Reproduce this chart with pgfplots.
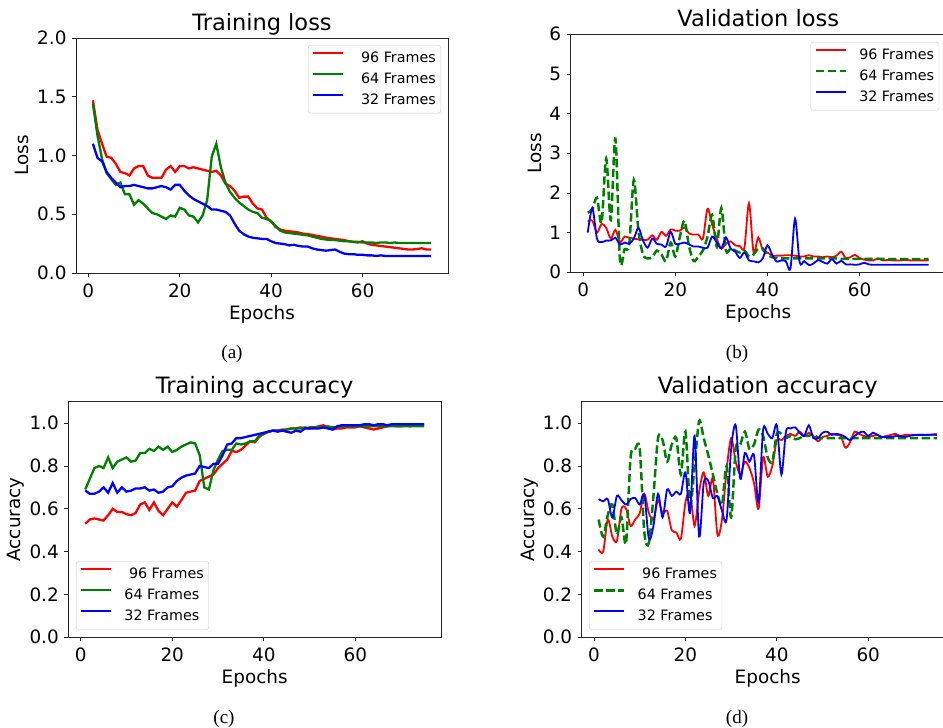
\documentclass[border=0pt]{standalone}
\usepackage{fontspec}
\setmainfont{DejaVu Sans}
\newfontfamily\capfont{Liberation Serif}
\usepackage{pgfplots}
\usepackage{pgfplotstable}
\pgfplotsset{compat=1.18}

\definecolor{mred}{RGB}{255,0,0}
\definecolor{mgreen}{RGB}{0,128,0}
\definecolor{mblue}{RGB}{0,0,255}

\newcommand\tickfont{\fontsize{18.4pt}{18.4pt}\selectfont}
\newcommand\titlefont{\fontsize{22.5pt}{22.5pt}\selectfont}
\newcommand\legfont{\fontsize{14.3pt}{14.3pt}\selectfont}

% training loss
\pgfplotstableread{
e r g b
1 1.47 1.44 1.10
2 1.22 1.17 0.98
3 1.10 0.97 0.95
4 0.99 0.85 0.86
5 0.98 0.80 0.81
6 0.93 0.75 0.77
7 0.86 0.77 0.73
8 0.85 0.67 0.74
9 0.83 0.67 0.74
10 0.89 0.58 0.75
11 0.91 0.62 0.74
12 0.91 0.59 0.73
13 0.83 0.55 0.72
14 0.81 0.51 0.72
15 0.81 0.50 0.73
16 0.81 0.48 0.74
17 0.88 0.46 0.73
18 0.91 0.49 0.71
19 0.86 0.48 0.75
20 0.91 0.555 0.75
21 0.91 0.54 0.70
22 0.89 0.49 0.66
23 0.90 0.48 0.63
24 0.89 0.43 0.61
25 0.88 0.49 0.59
26 0.87 0.62 0.57
27 0.86 0.99 0.54
28 0.87 1.10 0.54
29 0.83 0.90 0.53
30 0.76 0.77 0.52
31 0.74 0.69 0.49
32 0.70 0.64 0.42
33 0.64 0.60 0.36
34 0.65 0.57 0.33
35 0.65 0.54 0.31
36 0.59 0.52 0.30
37 0.55 0.51 0.295
38 0.54 0.47 0.29
39 0.47 0.46 0.29
40 0.44 0.44 0.27
41 0.39 0.40 0.255
42 0.37 0.36 0.25
43 0.36 0.345 0.245
44 0.355 0.34 0.235
45 0.35 0.335 0.24
46 0.345 0.33 0.23
47 0.335 0.325 0.225
48 0.33 0.32 0.225
49 0.325 0.31 0.21
50 0.315 0.30 0.20
51 0.31 0.29 0.195
52 0.30 0.285 0.19
53 0.295 0.28 0.195
54 0.29 0.28 0.20
55 0.285 0.275 0.18
56 0.28 0.27 0.165
57 0.27 0.27 0.16
58 0.265 0.265 0.16
59 0.26 0.265 0.155
60 0.27 0.26 0.155
61 0.25 0.26 0.15
62 0.24 0.26 0.15
63 0.235 0.255 0.145
64 0.23 0.26 0.15
65 0.225 0.26 0.145
66 0.22 0.255 0.145
67 0.215 0.26 0.145
68 0.21 0.255 0.145
69 0.205 0.255 0.145
70 0.20 0.255 0.145
71 0.20 0.255 0.145
72 0.205 0.255 0.145
73 0.21 0.255 0.145
74 0.20 0.255 0.145
75 0.20 0.255 0.145
}\trainloss

% validation loss
\pgfplotstableread{
e r g b
1 1.28 1.50 1.00
2 1.30 1.60 1.62
3 1.00 1.88 0.85
4 1.22 1.25 0.76
5 1.12 2.87 0.80
6 0.85 1.32 0.80
7 1.07 3.37 0.87
8 0.76 0.30 0.70
9 0.90 0.58 0.75
10 0.87 0.70 0.72
11 0.85 2.33 0.85
12 0.83 1.05 1.12
13 0.82 0.45 0.80
14 0.82 0.35 0.62
15 0.93 0.38 0.85
16 0.82 0.55 0.72
17 1.02 0.45 0.70
18 0.92 0.28 0.65
19 1.08 0.75 1.02
20 1.05 0.40 0.72
21 1.05 0.90 0.72
22 1.13 1.30 0.75
23 0.98 0.65 0.70
24 0.95 0.28 0.65
25 0.95 0.40 0.65
26 0.85 0.55 0.62
27 1.60 0.90 0.62
28 1.20 1.45 0.90
29 0.85 0.65 0.75
30 0.60 1.62 0.60
31 0.72 0.55 0.88
32 0.78 0.60 0.60
33 0.68 0.55 0.52
34 0.66 0.50 0.36
35 0.62 0.55 0.50
36 1.74 0.40 0.30
37 0.50 0.45 0.28
38 0.88 0.60 0.25
39 0.55 0.60 0.35
40 0.50 0.45 0.68
41 0.42 0.38 0.45
42 0.42 0.36 0.27
43 0.42 0.35 0.30
44 0.43 0.35 0.28
45 0.43 0.35 0.10
46 0.42 0.35 1.35
47 0.40 0.35 0.25
48 0.40 0.35 0.28
49 0.43 0.35 0.18
50 0.40 0.35 0.22
51 0.40 0.35 0.31
52 0.38 0.35 0.26
53 0.40 0.35 0.22
54 0.38 0.35 0.33
55 0.42 0.35 0.22
56 0.52 0.34 0.29
57 0.36 0.34 0.20
58 0.38 0.34 0.20
59 0.44 0.34 0.19
60 0.36 0.34 0.20
61 0.32 0.34 0.24
62 0.30 0.34 0.20
63 0.30 0.34 0.19
64 0.35 0.34 0.19
65 0.30 0.34 0.19
66 0.31 0.33 0.19
67 0.30 0.33 0.19
68 0.30 0.33 0.19
69 0.30 0.33 0.19
70 0.31 0.33 0.19
71 0.30 0.33 0.19
72 0.30 0.33 0.19
73 0.30 0.33 0.19
74 0.30 0.33 0.19
75 0.30 0.33 0.19
}\valloss

% training accuracy
\pgfplotstableread{
e r g b
1 0.53 0.69 0.685
2 0.55 0.74 0.67
3 0.555 0.79 0.67
4 0.55 0.80 0.68
5 0.545 0.79 0.70
6 0.57 0.84 0.675
7 0.60 0.79 0.72
8 0.585 0.82 0.675
9 0.585 0.83 0.70
10 0.575 0.84 0.68
11 0.57 0.82 0.685
12 0.58 0.825 0.695
13 0.62 0.86 0.695
14 0.63 0.86 0.70
15 0.595 0.88 0.685
16 0.63 0.87 0.69
17 0.59 0.89 0.675
18 0.57 0.875 0.68
19 0.60 0.89 0.70
20 0.63 0.865 0.705
21 0.61 0.875 0.73
22 0.64 0.89 0.745
23 0.675 0.90 0.755
24 0.68 0.91 0.76
25 0.685 0.905 0.765
26 0.73 0.85 0.80
27 0.74 0.70 0.795
28 0.75 0.69 0.79
29 0.76 0.78 0.81
30 0.79 0.83 0.81
31 0.81 0.87 0.85
32 0.83 0.875 0.90
33 0.87 0.875 0.905
34 0.865 0.905 0.93
35 0.875 0.90 0.93
36 0.895 0.905 0.935
37 0.915 0.915 0.94
38 0.91 0.915 0.945
39 0.935 0.94 0.95
40 0.95 0.95 0.955
41 0.96 0.96 0.96
42 0.965 0.965 0.965
43 0.965 0.965 0.96
44 0.97 0.965 0.965
45 0.97 0.97 0.96
46 0.975 0.975 0.955
47 0.975 0.975 0.965
48 0.98 0.975 0.96
49 0.975 0.98 0.975
50 0.98 0.975 0.975
51 0.98 0.98 0.975
52 0.985 0.98 0.975
53 0.99 0.98 0.98
54 0.98 0.985 0.975
55 0.97 0.98 0.97
56 0.975 0.98 0.985
57 0.975 0.985 0.99
58 0.98 0.985 0.99
59 0.98 0.985 0.99
60 0.98 0.985 0.99
61 0.985 0.985 0.99
62 0.98 0.985 0.995
63 0.975 0.985 0.995
64 0.97 0.985 0.99
65 0.975 0.985 0.995
66 0.98 0.985 0.995
67 0.985 0.985 0.99
68 0.99 0.985 0.995
69 0.985 0.985 0.995
70 0.985 0.985 0.995
71 0.99 0.985 0.995
72 0.985 0.985 0.995
73 0.99 0.985 0.995
74 0.99 0.985 0.995
75 0.99 0.985 0.995
}\trainacc

% validation accuracy
\pgfplotstableread{
e r g b
1 0.41 0.55 0.645
2 0.40 0.47 0.635
3 0.55 0.57 0.645
4 0.47 0.62 0.56
5 0.45 0.48 0.66
6 0.60 0.56 0.64
7 0.60 0.44 0.62
8 0.52 0.84 0.645
9 0.55 0.88 0.65
10 0.58 0.88 0.62
11 0.67 0.49 0.665
12 0.58 0.44 0.46
13 0.55 0.66 0.52
14 0.64 0.93 0.67
15 0.58 0.92 0.56
16 0.59 0.82 0.69
17 0.50 0.90 0.66
18 0.49 0.93 0.68
19 0.46 0.76 0.67
20 0.63 0.96 0.77
21 0.68 0.62 0.58
22 0.52 0.80 0.94
23 0.68 1.01 0.47
24 0.77 0.93 0.72
25 0.66 0.85 0.73
26 0.74 0.76 0.65
27 0.48 0.67 0.66
28 0.55 0.62 0.59
29 0.78 0.80 0.55
30 0.93 0.56 0.88
31 0.82 0.88 0.99
32 0.76 0.90 0.74
33 0.82 0.96 0.86
34 0.79 0.88 0.82
35 0.72 0.90 0.85
36 0.60 0.97 0.63
37 0.84 0.94 0.97
38 0.75 0.84 0.95
39 0.80 0.82 0.93
40 0.92 0.95 0.99
41 0.92 0.95 0.76
42 0.94 0.93 0.96
43 0.95 0.94 0.975
44 0.94 0.925 0.98
45 0.96 0.93 0.955
46 0.94 0.94 0.94
47 0.955 0.94 0.99
48 0.94 0.95 0.93
49 0.915 0.93 0.93
50 0.935 0.93 0.955
51 0.94 0.93 0.96
52 0.95 0.93 0.945
53 0.945 0.93 0.95
54 0.94 0.93 0.945
55 0.885 0.93 0.935
56 0.91 0.93 0.92
57 0.96 0.93 0.94
58 0.95 0.93 0.955
59 0.94 0.93 0.96
60 0.937 0.93 0.94
61 0.94 0.93 0.955
62 0.945 0.93 0.945
63 0.935 0.93 0.935
64 0.94 0.93 0.935
65 0.945 0.93 0.935
66 0.95 0.93 0.94
67 0.94 0.93 0.94
68 0.945 0.93 0.935
69 0.945 0.93 0.94
70 0.945 0.93 0.944
71 0.945 0.93 0.945
72 0.945 0.93 0.945
73 0.945 0.93 0.945
74 0.945 0.93 0.947
75 0.945 0.93 0.948
}\valacc

\pgfplotsset{
  panel/.style={
    scale only axis,
    xmin=-2.7, xmax=78.7,
    xtick={0,20,40,60},
    axis line style={line width=0.8pt, black!85},
    every tick/.style={line width=0.8pt, black!85},
    tick align=outside, major tick length=4pt,
    xtick pos=bottom, ytick pos=left,
    /pgf/number format/assume math mode=true,
    ticklabel style={font=\tickfont},
    xticklabel style={anchor=north, inner sep=0pt, yshift=-6.3pt},
    yticklabel style={anchor=east, inner sep=0pt, xshift=-5.3pt},
    label style={font=\tickfont},
    xlabel style={at={(axis description cs:0.5,0)}, anchor=base, yshift=-46.5pt},
    title style={font=\titlefont, at={(axis description cs:0.5,1)}, anchor=base, yshift=1.7pt},
    legend cell align=left,
    legend style={font=\legfont, draw=black!20, rounded corners=2.5pt, fill=white,
      inner xsep=4pt, inner ysep=5.5pt, row sep=6pt, column sep=11pt,
      nodes={inner sep=1pt, text height=10.5pt, text depth=2.5pt}},
    legend image code/.code={\draw[##1] (0pt,5.2pt) -- (30pt,5.2pt);},
  },
  fracy/.style={yticklabel style={/pgf/number format/.cd, fixed, fixed zerofill, precision=1}},
  tr/.style={mred, line width=2.3pt},
  tg/.style={mgreen, line width=2.3pt},
  tb/.style={mblue, line width=2.3pt},
  vr/.style={mred, line width=1.8pt, smooth},
  vg/.style={mgreen, line width=2.5pt, smooth, dash pattern=on 8.3pt off 3.6pt},
  vb/.style={mblue, line width=1.8pt, smooth},
}

\begin{document}
\begin{tikzpicture}
\useasboundingbox (0,0) rectangle (943pt,728pt);

% (a) training loss
\begin{axis}[panel, fracy, at={(76pt,455pt)}, anchor=south west,
  width=372pt, height=235pt, ymin=0, ymax=2, ytick={0,0.5,1,1.5,2},
  title={Training loss}, xlabel={Epochs}, ylabel={Loss},
  ylabel style={at={(axis description cs:-0.128,0.5)}, anchor=base},
  legend style={at={(axis description cs:1,1)}, anchor=north east, xshift=-7pt, yshift=-7pt}]
\addplot[tr] table[x=e, y=r] {\trainloss};
\addlegendentry{\hspace*{4.5pt}96 Frames}
\addplot[tg] table[x=e, y=g] {\trainloss};
\addlegendentry{\hspace*{4.5pt}64 Frames}
\addplot[tb] table[x=e, y=b] {\trainloss};
\addlegendentry{\hspace*{4.5pt}32 Frames}
\end{axis}

% (b) validation loss
\begin{axis}[panel, at={(570.7pt,455.7pt)}, anchor=south west,
  width=375pt, height=238pt, ymin=0, ymax=6, ytick={0,1,2,3,4,5,6},
  title={Validation loss}, xlabel={Epochs}, ylabel={Loss},
  ylabel style={at={(axis description cs:-0.077,0.5)}, anchor=base},
  legend style={at={(axis description cs:1,1)}, anchor=north east, xshift=-6.5pt, yshift=-7.7pt}]
\addplot[vr] table[x=e, y=r] {\valloss};
\addlegendentry{96 Frames}
\addplot[vg] table[x=e, y=g] {\valloss};
\addlegendentry{64 Frames}
\addplot[vb] table[x=e, y=b] {\valloss};
\addlegendentry{32 Frames}
\end{axis}

% (c) training accuracy
\begin{axis}[panel, fracy, at={(68.3pt,90.7pt)}, anchor=south west,
  width=372.7pt, height=235.6pt, ymin=0, ymax=1.1, ytick={0,0.2,0.4,0.6,0.8,1.0},
  title={Training accuracy}, xlabel={Epochs}, ylabel={Accuracy},
  ylabel style={at={(axis description cs:-0.128,0.5)}, anchor=base},
  legend style={at={(axis description cs:0,0)}, anchor=south west, xshift=7.7pt, yshift=7.6pt}]
\addplot[tr] table[x=e, y=r] {\trainacc};
\addlegendentry{\hspace*{4.5pt}96 Frames}
\addplot[tg] table[x=e, y=g] {\trainacc};
\addlegendentry{64 Frames}
\addplot[tb] table[x=e, y=b] {\trainacc};
\addlegendentry{32 Frames}
\end{axis}

% (d) validation accuracy
\begin{axis}[panel, fracy, at={(581.7pt,90.7pt)}, anchor=south west,
  width=372pt, height=235.6pt, ymin=0, ymax=1.1, ytick={0,0.2,0.4,0.6,0.8,1.0},
  title={Validation accuracy}, xlabel={Epochs}, ylabel={Accuracy},
  ylabel style={at={(axis description cs:-0.128,0.5)}, anchor=base},
  legend style={at={(axis description cs:0,0)}, anchor=south west, xshift=7.3pt, yshift=7.6pt}]
\addplot[vr] table[x=e, y=r] {\valacc};
\addlegendentry{\hspace*{4.5pt}96 Frames}
\addplot[vg] table[x=e, y=g] {\valacc};
\addlegendentry{64 Frames}
\addplot[vb] table[x=e, y=b] {\valacc};
\addlegendentry{32 Frames}
\end{axis}

\node[font=\capfont\fontsize{19pt}{19pt}\selectfont, anchor=base] at (232pt,369pt) {(a)};
\node[font=\capfont\fontsize{19pt}{19pt}\selectfont, anchor=base] at (737pt,369pt) {(b)};
\node[font=\capfont\fontsize{19pt}{19pt}\selectfont, anchor=base] at (224pt,4.5pt) {(c)};
\node[font=\capfont\fontsize{19pt}{19pt}\selectfont, anchor=base] at (737pt,4.5pt) {(d)};
\end{tikzpicture}
\end{document}
